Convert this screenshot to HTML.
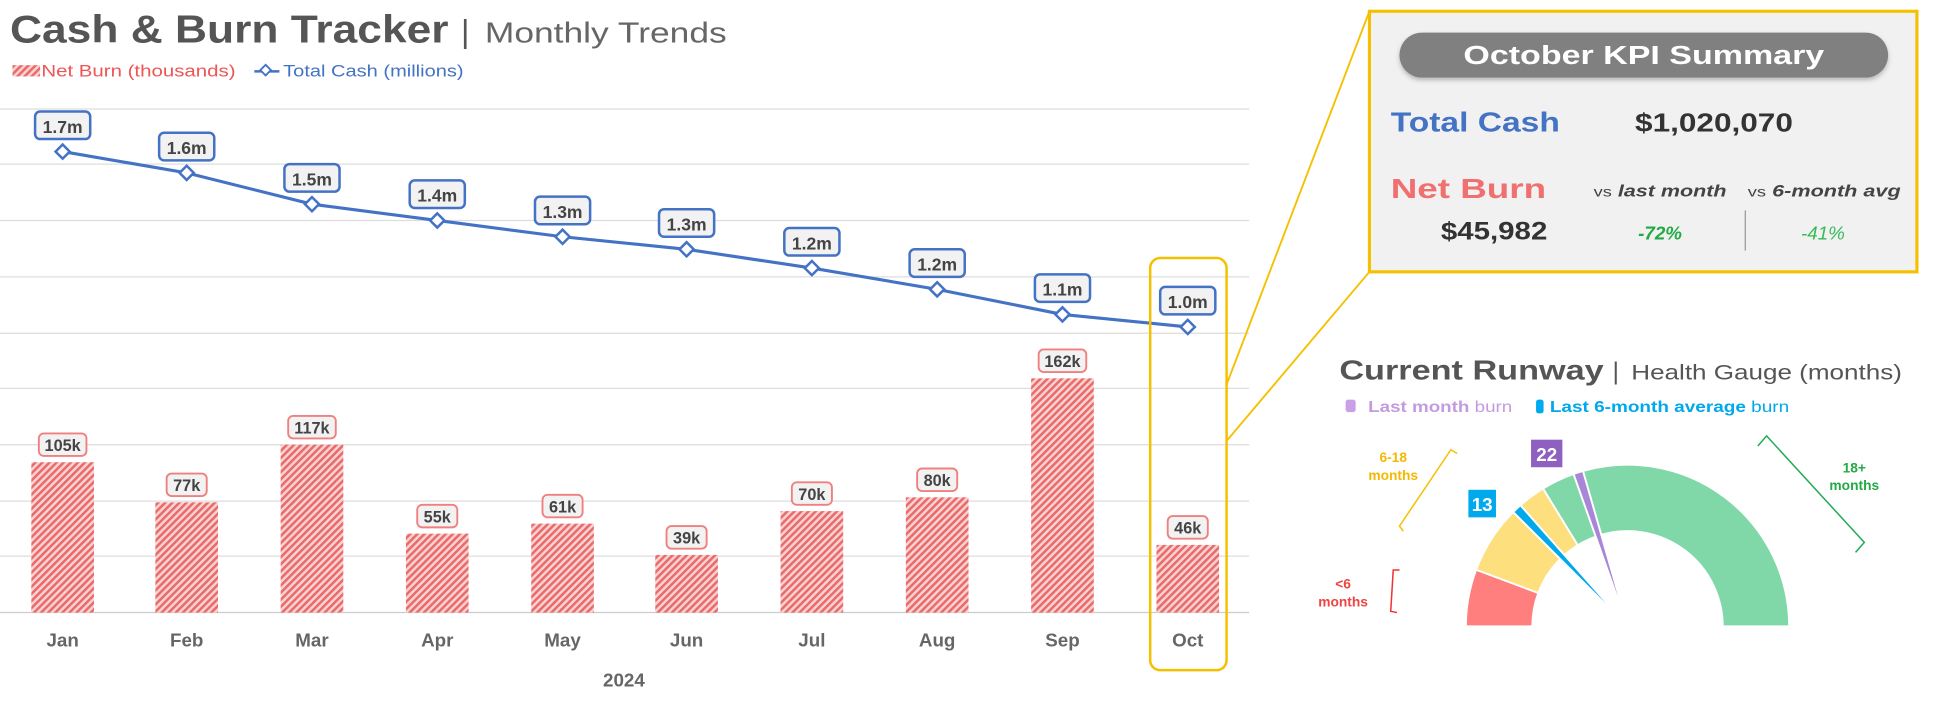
<!DOCTYPE html>
<html><head><meta charset="utf-8"><style>
html,body{margin:0;padding:0;background:#fff;}
svg{display:block;font-family:"Liberation Sans",Arial,sans-serif;}
</style></head><body>
<svg id="s" width="1942" height="704" viewBox="0 0 1550 562" preserveAspectRatio="none" xmlns="http://www.w3.org/2000/svg">
<defs>
<pattern id="h" width="4" height="4" patternUnits="userSpaceOnUse" patternTransform="rotate(45)">
<rect width="4" height="4" fill="#f9d2d2"/><rect width="2" height="4" fill="#ea6a6a"/>
</pattern>
<filter id="sh" x="-10%" y="-30%" width="120%" height="170%"><feDropShadow dx="0" dy="2" stdDeviation="2" flood-color="#000" flood-opacity="0.25"/></filter>
</defs>
<text x="8" y="34" font-size="31" font-weight="bold" fill="#555" textLength="350" lengthAdjust="spacingAndGlyphs">Cash &amp; Burn Tracker</text>
<text x="368" y="34" font-size="26" fill="#555">|</text>
<text x="387" y="34" font-size="23" fill="#666" textLength="193" lengthAdjust="spacingAndGlyphs">Monthly Trends</text>
<rect x="10" y="52" width="22" height="9" fill="url(#h)"/>
<text x="33" y="61" font-size="13.5" fill="#ee5555" textLength="155" lengthAdjust="spacingAndGlyphs">Net Burn (thousands)</text>
<line x1="203" y1="57" x2="223" y2="57" stroke="#4472c4" stroke-width="2"/>
<rect x="209" y="53" width="6" height="6" transform="rotate(45 212 56)" fill="#fff" stroke="#4472c4" stroke-width="1.5"/>
<text x="226" y="61" font-size="13.5" fill="#4472c4" textLength="144" lengthAdjust="spacingAndGlyphs">Total Cash (millions)</text>
<g id="grid" stroke="#ddd" stroke-width="1"></g>
<g id="bars"></g>
<g id="line"></g>
<g id="months" font-size="15" font-weight="bold" fill="#666" text-anchor="middle"></g>
<text x="498" y="548" font-size="15" font-weight="bold" fill="#666" text-anchor="middle">2024</text>
<rect x="918" y="206" width="61" height="329" rx="8" fill="none" stroke="#f5c000" stroke-width="2"/>
<line x1="979" y1="307" x2="1093" y2="9" stroke="#f5c000" stroke-width="1.5"/>
<line x1="979" y1="352" x2="1093" y2="217" stroke="#f5c000" stroke-width="1.5"/>
<rect x="1093" y="9" width="437" height="208" fill="#f1f1f1" stroke="#f5c000" stroke-width="2.5"/>
<rect x="1117" y="26" width="390" height="36" rx="18" fill="#808080" filter="url(#sh)"/>
<text x="1168" y="51" font-size="21" font-weight="bold" fill="#fff" textLength="288" lengthAdjust="spacingAndGlyphs">October KPI Summary</text>
<text x="1110" y="105" font-size="22" font-weight="bold" fill="#4472c4" textLength="135" lengthAdjust="spacingAndGlyphs">Total Cash</text>
<text x="1305" y="105" font-size="21" font-weight="bold" fill="#333" textLength="126" lengthAdjust="spacingAndGlyphs">$1,020,070</text>
<text x="1110" y="158" font-size="22" font-weight="bold" fill="#f07070" textLength="124" lengthAdjust="spacingAndGlyphs">Net Burn</text>
<text x="1272" y="157" font-size="13" fill="#444" textLength="106" lengthAdjust="spacingAndGlyphs"><tspan font-size="11">vs</tspan> <tspan font-style="italic" font-weight="bold">last month</tspan></text>
<text x="1395" y="157" font-size="13" fill="#444" textLength="122" lengthAdjust="spacingAndGlyphs"><tspan font-size="11">vs</tspan> <tspan font-style="italic" font-weight="bold">6-month avg</tspan></text>
<text x="1150" y="191" font-size="20" font-weight="bold" fill="#333" textLength="85" lengthAdjust="spacingAndGlyphs">$45,982</text>
<text x="1325" y="191" font-size="15" font-weight="bold" font-style="italic" fill="#22aa44" text-anchor="middle">-72%</text>
<line x1="1393" y1="168" x2="1393" y2="200" stroke="#999" stroke-width="1"/>
<text x="1455" y="191" font-size="15" font-style="italic" fill="#33bb55" text-anchor="middle">-41%</text>
<text x="1069" y="303" font-size="22" font-weight="bold" fill="#555" textLength="211" lengthAdjust="spacingAndGlyphs">Current Runway</text>
<text x="1287" y="303" font-size="20" fill="#555">|</text>
<text x="1302" y="303" font-size="17" fill="#555" textLength="216" lengthAdjust="spacingAndGlyphs">Health Gauge (months)</text>
<rect x="1074" y="319" width="8" height="10" rx="2" fill="#c9a0e6"/>
<text x="1092" y="329" font-size="12.5" fill="#c39be0" textLength="115" lengthAdjust="spacingAndGlyphs"><tspan font-weight="bold">Last month</tspan> burn</text>
<rect x="1226" y="319" width="6" height="11" rx="2" fill="#00aaee"/>
<text x="1237" y="329" font-size="12.5" fill="#00a8ec" textLength="191" lengthAdjust="spacingAndGlyphs"><tspan font-weight="bold">Last 6-month average</tspan> burn</text>
<g id="gauge" stroke="#fff" stroke-width="1.5"></g>
<rect x="1222" y="351" width="25" height="22" fill="#8e60bf"/>
<text x="1234.5" y="368" font-size="15" font-weight="bold" fill="#fff" text-anchor="middle">22</text>
<rect x="1172" y="391" width="22" height="22" fill="#00a8ec"/>
<text x="1183" y="408" font-size="15" font-weight="bold" fill="#fff" text-anchor="middle">13</text>
<text x="1112" y="369" font-size="11" font-weight="bold" fill="#f5b800" text-anchor="middle">6-18</text>
<text x="1112" y="383" font-size="11" font-weight="bold" fill="#f5b800" text-anchor="middle">months</text>
<polyline points="1428,356 1423,353 1382,414 1385,418" transform="translate(-265,6)" fill="none" stroke="#f5c000" stroke-width="1.2"/>
<text x="1072" y="470" font-size="11" font-weight="bold" fill="#ee4444" text-anchor="middle">&lt;6</text>
<text x="1072" y="484" font-size="11" font-weight="bold" fill="#ee4444" text-anchor="middle">months</text>
<polyline points="1117,455 1112,455 1110,488 1115,489" fill="none" stroke="#ee3333" stroke-width="1.2"/>
<text x="1480" y="377" font-size="11" font-weight="bold" fill="#22aa44" text-anchor="middle">18+</text>
<text x="1480" y="391" font-size="11" font-weight="bold" fill="#22aa44" text-anchor="middle">months</text>
<polyline points="1403,356 1410,348 1488,433 1481,441" fill="none" stroke="#22aa55" stroke-width="1.2"/>
</svg>
<script>
var NS="http://www.w3.org/2000/svg";
function el(p,t,a,txt){var e=document.createElementNS(NS,t);for(var k in a)e.setAttribute(k,a[k]);if(txt)e.textContent=txt;document.getElementById(p).appendChild(e);return e;}
[87,131,176,221,266,310,355,400,444].forEach(function(y){el("grid","line",{x1:0,x2:997,y1:y,y2:y});});
el("grid","line",{x1:0,x2:997,y1:489,y2:489,stroke:"#ccc"});
var xs=[50,149,249,349,449,548,648,748,848,948];
var mon=["Jan","Feb","Mar","Apr","May","Jun","Jul","Aug","Sep","Oct"];
var bt=[369,401,355,426,418,443,408,397,302,435];
var bl=["105k","77k","117k","55k","61k","39k","70k","80k","162k","46k"];
var ly=[121,138,163,176,189,199,214,231,251,261];
var ll=["1.7m","1.6m","1.5m","1.4m","1.3m","1.3m","1.2m","1.2m","1.1m","1.0m"];
for(var i=0;i<10;i++){
 var x=xs[i];
 el("bars","rect",{x:x-25,y:bt[i],width:50,height:489-bt[i],fill:"url(#h)"});
 var w=bl[i].length>3?38:32;
 el("bars","rect",{x:x-w/2,y:bt[i]-23,width:w,height:18,rx:4,fill:"#f2f2f2",stroke:"#f08080","stroke-width":1.5});
 el("bars","text",{x:x,y:bt[i]-9,"font-size":13,"font-weight":"bold",fill:"#444","text-anchor":"middle"},bl[i]);
 el("months","text",{x:x,y:516},mon[i]);
}
var pts=xs.map(function(x,i){return x+","+ly[i];}).join(" ");
el("line","polyline",{points:pts,fill:"none",stroke:"#4472c4","stroke-width":2.5});
for(var i=0;i<10;i++){
 var x=xs[i],y=ly[i];
 el("line","rect",{x:x-4,y:y-4,width:8,height:8,transform:"rotate(45 "+x+" "+y+")",fill:"#fff",stroke:"#4472c4","stroke-width":2});
 el("line","rect",{x:x-22,y:y-32,width:44,height:22,rx:4,fill:"#f2f2f2",stroke:"#4472c4","stroke-width":2});
 el("line","text",{x:x,y:y-15,"font-size":14,"font-weight":"bold",fill:"#444","text-anchor":"middle"},ll[i]);
}
var cx=1299,cy=500,R=129,r=76;
function P(rad,a){a=a*Math.PI/180;return [cx-rad*Math.cos(a),cy-rad*Math.sin(a)];}
function seg(a1,a2,ri,c){var p1=P(R,a1),p2=P(R,a2),p3=P(ri,a2),p4=P(ri,a1);var lg=(a2-a1)>180?1:0;
 var d="M"+p1+" A"+R+","+R+" 0 "+lg+" 1 "+p2;
 if(ri>0)d+=" L"+p3+" A"+ri+","+ri+" 0 "+lg+" 0 "+p4+" Z";else d+=" L"+cx+","+cy+" Z";
 el("gauge","path",{d:d,fill:c});}
seg(0,20.5,r,"#ff7f7f");
seg(20.5,45,r,"#fedf7e");
seg(48.5,58.5,r,"#fedf7e");
seg(58.5,70.5,r,"#80d8a8");
seg(74,180,r,"#80d8a8");
seg(45,48.5,0,"#00a8ec");
seg(70.5,74,0,"#a987d8");
</script>
</body></html>
